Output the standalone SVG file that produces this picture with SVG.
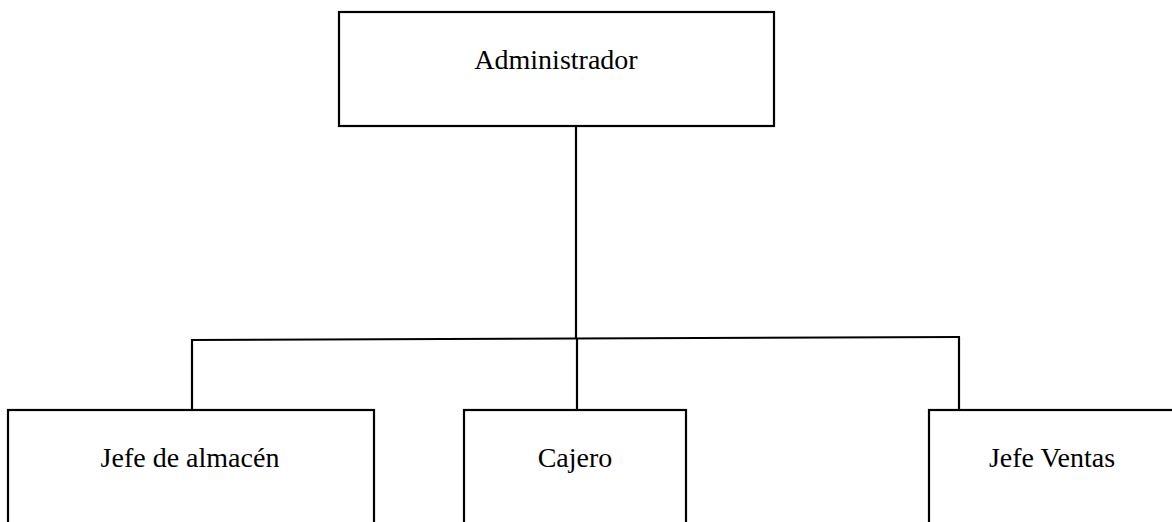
<svg xmlns="http://www.w3.org/2000/svg" width="1172" height="522" viewBox="0 0 1172 522">
<style>
.box{fill:#fff;stroke:#000;stroke-width:2.2}
.ln{fill:none;stroke:#000;stroke-width:2.2}
text{font-family:"Liberation Serif","Times New Roman",serif;font-size:28px;fill:#000;text-anchor:middle}
</style>
<rect width="1172" height="522" fill="#fff"/>
<g id="connectors">
<line class="ln" x1="576" y1="126" x2="576" y2="338"/>
<line class="ln" x1="191" y1="340" x2="960" y2="337"/>
<line class="ln" x1="192" y1="340" x2="192" y2="410"/>
<line class="ln" x1="577" y1="338" x2="577" y2="410"/>
<line class="ln" x1="959" y1="337" x2="959" y2="410"/>
</g>
<g id="administrador">
<rect class="box" x="339" y="12" width="435" height="114"/>
<text x="556" y="69">Administrador</text>
</g>
<g id="jefe-almacen">
<rect class="box" x="8" y="410" width="366" height="130"/>
<text x="190" y="467">Jefe de almacén</text>
</g>
<g id="cajero">
<rect class="box" x="464" y="410" width="222" height="130"/>
<text x="575" y="467">Cajero</text>
</g>
<g id="jefe-ventas">
<rect class="box" x="929" y="410" width="260" height="130"/>
<text x="1052" y="467">Jefe Ventas</text>
</g>
</svg>
